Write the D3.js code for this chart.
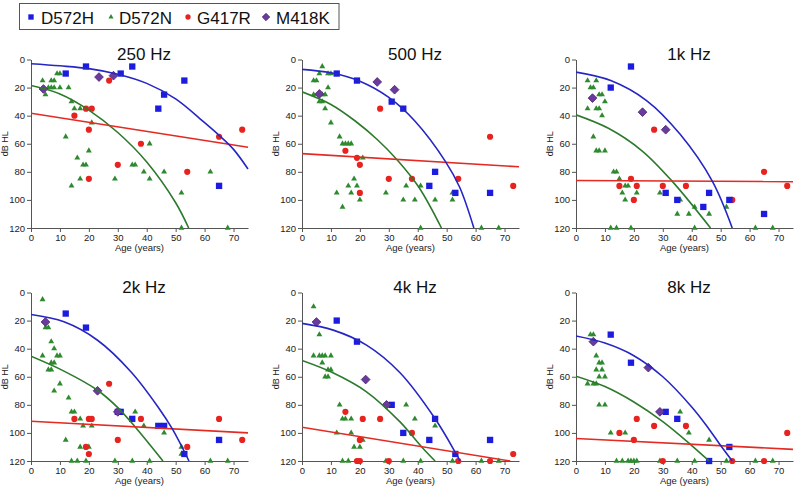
<!DOCTYPE html>
<html><head><meta charset="utf-8">
<script src="https://cdn.jsdelivr.net/npm/d3@7"></script>
<style>body{margin:0;background:#fff} svg{display:block} text{font-family:"Liberation Sans",Arial,Helvetica,sans-serif}</style>
</head><body><svg id="c" width="800" height="493"></svg>
<script>
// ---------------- DATA ----------------
const frequencies = ["250 Hz", "500 Hz", "1k Hz", "2k Hz", "4k Hz", "8k Hz"];
const ageTicks = [0, 10, 20, 30, 40, 50, 60, 70];
const dbTicks = [0, 20, 40, 60, 80, 100, 120];
const seriesNames = ["D572H", "D572N", "G417R", "M418K"];

// points per panel: [age, dB HL]
const D572H = [
  [[12,10],[19,5],[31,10],[35,5],[44,35],[46,25],[53,15],[65,90]],
  [[12,10],[19,15],[31,30],[35,35],[44,90],[46,80],[53,95],[65,95]],
  [[19,5],[12,20],[31,95],[35,100],[46,95],[44,105],[53,100],[65,110]],
  [[12,15],[19,25],[30,85],[31,85],[35,90],[44,95],[46,95],[53,115],[65,105]],
  [[12,20],[19,35],[31,80],[35,100],[44,105],[46,90],[53,115],[65,105]],
  [[12,30],[19,50],[31,85],[35,90],[46,120],[53,110]]
];
const D572N = [
  [[4,15],[7,15],[8,15],[9,10],[10,10],[5,25],[6,20],[7,20],[8,20],[10,20],[13,20],[14,30],[15,35],[17,35],[21,45],[12,55],[16,70],[18,75],[19,75],[20,65],[17,85],[14,90],[29,85],[35,75],[36,75],[39,80],[41,60],[41,85],[46,80],[52,95],[62,80],[52,120],[68,120]],
  [[7,5],[4,15],[5,15],[6,10],[9,10],[10,10],[4,25],[6,25],[7,25],[8,25],[9,20],[6,30],[7,30],[8,35],[10,45],[13,55],[14,60],[15,60],[16,60],[17,60],[21,70],[12,95],[14,105],[16,90],[17,95],[18,85],[19,90],[20,100],[29,95],[35,100],[36,90],[39,100],[41,90],[41,120],[46,100],[52,100],[52,95],[62,120],[68,120]],
  [[4,15],[7,15],[5,20],[6,20],[8,25],[9,25],[10,30],[4,35],[7,35],[8,35],[9,40],[6,55],[7,65],[8,65],[10,65],[13,80],[14,80],[15,85],[17,90],[18,90],[16,95],[21,95],[17,100],[29,95],[36,100],[35,110],[39,110],[41,105],[46,110],[52,105],[12,120],[14,120],[19,120],[41,120],[62,120],[68,120]],
  [[4,5],[4,45],[5,25],[6,25],[7,35],[8,40],[9,45],[10,45],[7,50],[8,50],[6,55],[7,55],[8,70],[10,65],[13,75],[14,85],[15,85],[17,90],[18,95],[21,95],[12,105],[17,110],[20,110],[36,85],[39,95],[46,100],[52,110],[52,115],[14,120],[16,120],[19,120],[29,120],[35,120],[41,120],[62,120],[68,120]],
  [[4,10],[6,30],[4,45],[6,45],[7,45],[8,45],[10,45],[7,50],[9,55],[10,55],[8,60],[9,60],[13,80],[14,90],[15,90],[17,90],[12,100],[17,100],[21,105],[18,110],[20,110],[36,80],[39,90],[46,95],[14,120],[16,120],[29,120],[35,120],[41,120],[52,120],[62,120],[68,120]],
  [[5,30],[6,30],[7,45],[8,50],[9,50],[7,55],[9,55],[8,60],[10,60],[4,65],[6,65],[7,65],[8,80],[10,80],[12,100],[17,100],[36,85],[39,100],[46,105],[14,120],[16,120],[18,120],[19,120],[20,120],[21,120],[29,120],[35,120],[41,120],[52,120],[62,120],[68,120]]
];
const G417R = [
  [[15,40],[19,35],[21,35],[20,50],[20,85],[27,15],[30,75],[38,60],[54,80],[65,55],[73,50]],
  [[15,65],[19,70],[20,75],[20,95],[27,35],[30,85],[38,85],[54,85],[65,55],[73,90]],
  [[15,90],[19,85],[21,90],[20,100],[27,50],[30,90],[38,90],[54,100],[65,80],[73,90]],
  [[15,90],[20,90],[21,90],[19,110],[20,115],[27,65],[30,105],[38,90],[54,110],[65,90],[73,105]],
  [[15,85],[21,90],[20,105],[19,120],[20,120],[27,90],[30,120],[38,100],[54,120],[65,120],[73,115]],
  [[15,100],[21,90],[20,105],[27,95],[30,120],[38,95],[54,120],[65,120],[73,100]]
];
const M418K = [
  [[4.3,21],[23.5,12.5],[28.5,11.5]],
  [[6,24.5],[26,16],[32,21.5]],
  [[5.7,27.5],[23,37.5],[31,50]],
  [[5,21],[23,70],[30,85]],
  [[5,21],[22,62],[29.2,80]],
  [[6,35],[25,53.5],[29,85]]
];

// fitted curves: [age, dB HL]
const fitD572H = [
  [[0,3],[10,4.5],[20,6.5],[30,10.5],[40,17],[50,28],[60,45],[65,54],[70,64],[75,78]],
  [[0,7],[10,9.5],[20,15.5],[30,27],[39,43.8],[49.6,72.7],[54.5,91],[59.4,120]],
  [[0,9],[12,15],[24.5,29.4],[36,53.3],[47.1,86.6],[54,120]],
  [[0,15.7],[11.4,20.9],[23,34],[34.6,56.6],[43.9,81.5],[48.8,97],[54.6,120]],
  [[0,22],[10.8,26.8],[22.3,37.5],[33.8,57],[45.9,89.6],[53.3,115],[54.6,120]],
  [[0,31],[10,36],[20,45],[30,60],[40,81.5],[45,94.5],[50,109],[54,120]]
];
const fitD572N = [
  [[0,18.5],[10,24.5],[20,36],[30,52],[40,73],[50,102],[54.5,120]],
  [[0,23],[10,32],[18.4,43.8],[26,57],[33,71.7],[40.4,91],[48.2,120]],
  [[0,39.4],[11.2,49],[22.8,65],[33.2,86.6],[46.5,120]],
  [[0,45.4],[11.4,56],[23,69.6],[30,82],[35.8,95.3],[45.6,120]],
  [[0,48.4],[10.5,57],[22.3,70.7],[33.8,92],[41.3,109.8],[46,120]],
  [[0,59.6],[10,67],[20,78],[30,92],[40,109],[46,120]]
];
const fitG417R = [
  [[0,38.3],[75,62.5]],
  [[0,67],[75,76.4]],
  [[0,86.2],[75,87]],
  [[0,91.7],[75,100]],
  [[0,96],[72,120]],
  [[0,104],[75,111.7]]
];

// ---------------- STYLE / LAYOUT ----------------
const colors = {D572H: "#1c1ce0", D572N: "#2e8a2e", G417R: "#e8221e", M418K: "#6a3a9e"};
const lineColors = {D572H: "#2626c4", D572N: "#2d7a2d", G417R: "#e42a22"};
const colX = [31, 302, 576];
const rowY = [59.5, 292.5];
const W = 217, H = 168.5;

const svg = d3.select("#c");

function marker(sel, name, s) {
  s = s || 1;
  if (name === "D572H") {
    sel.append("path").attr("d", d3.symbol().type(d3.symbolSquare).size(40 * s * s)())
      .attr("fill", colors.D572H);
  } else if (name === "D572N") {
    sel.append("path").attr("d", d3.symbol().type(d3.symbolTriangle).size(15 * s * s)())
      .attr("fill", colors.D572N);
  } else if (name === "G417R") {
    sel.append("path").attr("d", d3.symbol().type(d3.symbolCircle).size(30 * s * s)())
      .attr("fill", colors.G417R);
  } else {
    sel.append("path").attr("d", d3.symbol().type(d3.symbolSquare).size(38 * s * s)())
      .attr("transform", "rotate(45)")
      .attr("fill", colors.M418K).attr("stroke", "#4e2678").attr("stroke-width", 0.8);
  }
}

frequencies.forEach((freq, i) => {
  const x0 = colX[i % 3], y0 = rowY[Math.floor(i / 3)];
  const x = d3.scaleLinear().domain([0, 75]).range([0, W]);
  const y = d3.scaleLinear().domain([0, 120]).range([0, H]);
  const g = svg.append("g").attr("transform", `translate(${x0},${y0})`);

  const clipId = "clip" + i;
  g.append("clipPath").attr("id", clipId).append("rect")
    .attr("x", 0).attr("y", -2).attr("width", W + 2).attr("height", H + 3);

  // axes
  const ya = g.append("g").call(d3.axisLeft(y).tickValues(dbTicks).tickSize(4).tickSizeOuter(0).tickPadding(2));
  const xa = g.append("g").attr("transform", `translate(0,${H})`)
    .call(d3.axisBottom(x).tickValues(ageTicks).tickSize(4).tickSizeOuter(0).tickPadding(2));
  [ya, xa].forEach(a => {
    a.selectAll("path,line").attr("stroke", "#555");
    a.selectAll("text").attr("font-size", "9.5px").attr("fill", "#222")
      .attr("font-family", '"Liberation Sans",Arial,sans-serif');
  });

  g.append("text").attr("x", 113).attr("y", 0.5).attr("text-anchor", "middle")
    .attr("font-size", "17px").attr("fill", "#111").text(freq);
  g.append("text").attr("transform", `translate(-23,${H / 2}) rotate(-90)`)
    .attr("text-anchor", "middle").attr("font-size", "9px").attr("fill", "#222").text("dB HL");
  g.append("text").attr("x", x(37.5)).attr("y", H + 23).attr("text-anchor", "middle")
    .attr("font-size", "9.5px").attr("fill", "#222").text("Age (years)");

  // points
  const pts = g.append("g");
  const sets = [["D572N", D572N[i]], ["G417R", G417R[i]], ["D572H", D572H[i]], ["M418K", M418K[i]]];
  sets.forEach(([name, arr]) => {
    arr.forEach(d => {
      const m = pts.append("g").attr("transform", `translate(${x(d[0])},${y(d[1])})`);
      marker(m, name, 1);
    });
  });

  // curves
  const cg = g.append("g").attr("clip-path", `url(#${clipId})`);
  const line = d3.line().x(d => x(d[0])).y(d => y(d[1])).curve(d3.curveCatmullRom.alpha(0.5));
  [["D572N", fitD572N[i]], ["G417R", fitG417R[i]], ["D572H", fitD572H[i]]].forEach(([name, arr]) => {
    cg.append("path").attr("d", line(arr)).attr("fill", "none")
      .attr("stroke", lineColors[name]).attr("stroke-width", 1.6);
  });
});

// legend
const lg = svg.append("g");
lg.append("rect").attr("x", 19.5).attr("y", 3.5).attr("width", 319.5).attr("height", 26)
  .attr("fill", "#fff").attr("stroke", "#555").attr("stroke-width", 1);
const legendMarkX = [31, 111, 188, 266];
const legendTextX = [41, 119, 197, 276];
seriesNames.forEach((name, k) => {
  const m = lg.append("g").attr("transform", `translate(${legendMarkX[k]},17)`);
  marker(m, name, 0.85);
  lg.append("text").attr("x", legendTextX[k]).attr("y", 24).attr("font-size", "17px")
    .attr("fill", "#111").text(name);
});
</script></body></html>
